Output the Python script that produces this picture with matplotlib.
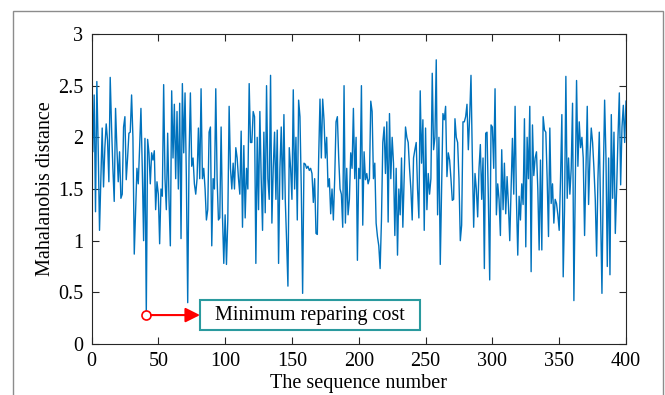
import numpy as np
import matplotlib
matplotlib.use("Agg")
from matplotlib import pyplot as plt
from matplotlib.patches import Rectangle

# Mahalanobis distance of each sequence
dist = [
    2.50, 1.86, 2.41, 1.28, 2.54, 1.90, 1.10, 1.60, 2.09, 1.52,
    1.90, 2.13, 1.97, 1.57, 2.58, 2.10, 1.70, 1.38, 2.28, 1.90,
    1.57, 1.86, 1.41, 1.45, 2.10, 2.20, 1.59, 1.80, 2.04, 2.05,
    2.41, 2.00, 0.87, 1.30, 1.70, 1.55, 1.90, 2.28, 1.70, 1.00,
    1.99, 0.28, 1.98, 1.85, 1.55, 1.85, 1.78, 1.87, 1.30, 1.57,
    1.45, 0.97, 1.50, 1.43, 2.51, 1.60, 1.30, 2.04, 1.40, 0.95,
    2.45, 1.80, 2.32, 1.60, 2.25, 1.50, 2.33, 1.02, 2.52, 1.85,
    2.43, 1.60, 0.40, 1.80, 2.43, 1.72, 1.80, 1.55, 1.45, 1.60,
    2.09, 1.60, 2.47, 1.60, 1.70, 1.50, 1.20, 1.30, 2.05, 2.10,
    0.95, 1.60, 1.50, 2.47, 1.60, 1.20, 1.22, 2.10, 1.25, 0.78,
    1.25, 0.77, 1.20, 2.30, 1.70, 1.50, 1.75, 1.50, 1.90, 1.80,
    1.60, 1.45, 2.06, 1.13, 1.92, 1.22, 1.70, 1.50, 2.52, 1.95,
    1.95, 2.25, 2.20, 0.78, 2.00, 1.30, 2.25, 1.60, 1.10, 2.05,
    1.27, 2.50, 1.60, 1.40, 2.60, 1.17, 1.70, 2.05, 1.40, 2.07,
    0.78, 1.70, 2.10, 1.40, 2.22, 1.40, 1.00, 0.56, 1.90, 1.70,
    1.40, 2.46, 1.50, 2.00, 1.20, 2.36, 2.20, 1.50, 0.49, 1.75,
    1.74, 1.70, 1.72, 1.68, 1.70, 1.65, 1.37, 1.60, 1.07, 1.06,
    1.80, 2.37, 1.80, 2.37, 2.17, 1.80, 2.00, 1.52, 1.60, 1.26,
    1.50, 1.20, 1.60, 2.15, 2.20, 1.80, 1.50, 1.45, 1.13, 2.50,
    1.17, 1.70, 1.25, 1.40, 1.85, 1.70, 2.28, 1.60, 2.00, 0.81,
    1.70, 1.60, 2.50, 1.15, 1.86, 1.59, 1.65, 1.55, 1.60, 2.35,
    2.25, 1.60, 1.75, 1.17, 1.04, 0.95, 0.73, 1.20, 1.95, 2.10,
    1.65, 2.15, 1.18, 2.23, 1.60, 2.00, 1.75, 1.05, 1.70, 0.86,
    1.50, 1.25, 1.80, 1.13, 1.60, 2.10, 2.00, 1.95, 1.70, 1.50,
    1.20, 1.80, 1.88, 1.95, 1.50, 1.22, 2.45, 1.75, 2.17, 1.10,
    2.09, 1.30, 1.65, 1.45, 1.60, 2.62, 1.88, 2.00, 2.75, 1.25,
    2.00, 0.77, 1.50, 2.23, 2.17, 2.30, 1.62, 1.85, 1.78, 1.60,
    1.39, 1.40, 2.18, 2.00, 1.95, 1.60, 1.00, 1.15, 2.15, 2.15,
    2.20, 2.32, 1.88, 2.20, 2.60, 1.80, 1.13, 1.65, 1.50, 1.23,
    1.70, 1.93, 1.40, 1.80, 0.73, 2.04, 2.05, 1.40, 0.62, 2.12,
    2.10, 1.70, 2.47, 1.25, 1.55, 1.40, 1.05, 1.88, 1.30, 1.75,
    1.26, 1.62, 1.35, 1.00, 1.50, 1.99, 1.45, 2.30, 1.40, 0.86,
    1.43, 1.20, 1.55, 1.35, 2.18, 0.94, 2.00, 1.60, 2.30, 0.70,
    2.12, 1.63, 1.80, 1.86, 1.50, 0.91, 1.78, 0.91, 2.20, 2.07,
    2.05, 1.60, 1.04, 2.09, 1.36, 1.55, 1.17, 1.40, 1.36, 1.25,
    1.10, 1.60, 2.22, 0.65, 1.30, 2.59, 1.41, 1.80, 1.45, 1.70,
    2.33, 0.42, 1.50, 2.55, 1.72, 2.15, 1.90, 2.00, 1.80, 1.05,
    1.70, 2.30, 1.35, 1.80, 2.09, 1.95, 1.70, 1.40, 0.85, 1.60,
    2.05, 1.30, 0.49, 1.60, 2.36, 1.81, 0.75, 1.80, 0.67, 2.22,
    1.41, 2.05, 1.07, 1.50, 2.00, 2.43, 1.54, 2.10, 2.31, 1.95,
    2.35,
]
seq = np.linspace(0, 400, len(dist))

min_idx = 41
min_val = 0.28
note = "Minimum reparing cost"

plt.rcParams['font.family'] = ['Liberation Serif', 'DejaVu Serif']
plt.rcParams['font.size'] = 14.5

fig = plt.figure(figsize=(6.65, 3.95), dpi=100)
# grey frame around the picture
fig.patches.append(Rectangle((13 / 665, -0.1), 650 / 665, 1.1 - 11 / 395,
                             transform=fig.transFigure, fill=False,
                             edgecolor='#8c8c8c', linewidth=1.0))

ax = fig.add_axes([91.5 / 665, 1 - 344 / 395, 534.5 / 665, 310 / 395])
ax.plot(seq, dist, color='#0072BD', linewidth=1.0)

ax.plot(min_idx, min_val, 'o', markersize=6.5, markerfacecolor='white',
        markeredgecolor='red', markeredgewidth=1.2)
ax.annotate('', xy=(81.2, min_val), xytext=(44.5, min_val),
            arrowprops=dict(arrowstyle='-|>', color='red', lw=1.5,
                            mutation_scale=22, shrinkA=0, shrinkB=0))
# text box of the note
ax.add_patch(Rectangle((81.2, 0.136), 164.7, 0.29, facecolor='white',
                       edgecolor='#2a9a9e', linewidth=1.5, zorder=3))
ax.text(163.5, min_val, note, ha='center', va='center', fontsize=14.5,
        zorder=4)

ax.set_xlim(0, 400)
ax.set_ylim(0, 3)
ax.set_xticks([0, 50, 100, 150, 200, 250, 300, 350, 400])
ax.set_yticks([0, 0.5, 1, 1.5, 2, 2.5, 3])
ax.set_yticklabels(['0', '0.5', '1', '1.5', '2', '2.5', '3'])
ax.tick_params(direction='in', top=True, right=True, length=5,
               width=0.8, colors='#262626', labelcolor='black', pad=6)
for s in ax.spines.values():
    s.set_color('#262626')
    s.set_linewidth(0.8)

ax.set_xlabel("The sequence number", labelpad=2)
ax.set_ylabel("Mahalanobis distance", labelpad=2)

plt.savefig("out.png", dpi=100)
